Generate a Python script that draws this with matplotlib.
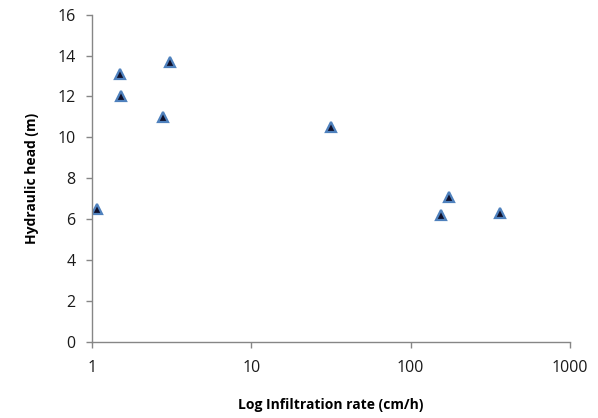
import matplotlib
matplotlib.use("Agg")
import matplotlib.pyplot as plt
from matplotlib.ticker import FixedLocator, FixedFormatter, NullLocator

# data
infiltration = [1.08, 1.50, 1.52, 2.80, 3.10, 31.6, 156, 175, 362]
head = [6.5, 13.1, 12.0, 11.0, 13.7, 10.5, 6.2, 7.1, 6.3]
x_ticks = [1, 10, 100, 1000]
x_labels = ["1", "10", "100", "1000"]
y_ticks = list(range(0, 17, 2))

GRAY = "#868686"
FONT = ["Open Sans", "DejaVu Sans"]

fig = plt.figure(figsize=(5.98, 4.18), dpi=100)
fig.patch.set_facecolor("white")
ax = fig.add_axes([0.1538, 0.1825, 0.7992, 0.7823])

ax.plot(infiltration, head, linestyle="none", marker="^", markersize=7.5,
        markerfacecolor="#10102a", markeredgecolor="#4f81bd", markeredgewidth=1.6)

ax.set_xscale("log")
ax.set_xlim(1, 1000)
ax.set_ylim(0, 16)
ax.xaxis.set_major_locator(FixedLocator(x_ticks))
ax.xaxis.set_major_formatter(FixedFormatter(x_labels))
ax.xaxis.set_minor_locator(NullLocator())
ax.set_yticks(y_ticks)

for s in ("top", "right"):
    ax.spines[s].set_visible(False)
for s in ("left", "bottom"):
    ax.spines[s].set_color(GRAY)
    ax.spines[s].set_linewidth(1.0)

ax.tick_params(axis="both", direction="out", length=4.5, width=1.0, color=GRAY,
               labelsize=11.5, labelcolor="#1a1a1a")
ax.tick_params(axis="y", pad=7.5)
ax.tick_params(axis="x", pad=8.5)
for lab in ax.get_xticklabels() + ax.get_yticklabels():
    lab.set_family(FONT)

ax.set_xlabel("Log Infiltration rate (cm/h)", fontsize=10, fontweight="bold",
              family=FONT, labelpad=16)
ax.set_ylabel("Hydraulic head (m)", fontsize=10, fontweight="bold",
              family=FONT, labelpad=13)

fig.savefig("out.png", dpi=100, facecolor="white")
